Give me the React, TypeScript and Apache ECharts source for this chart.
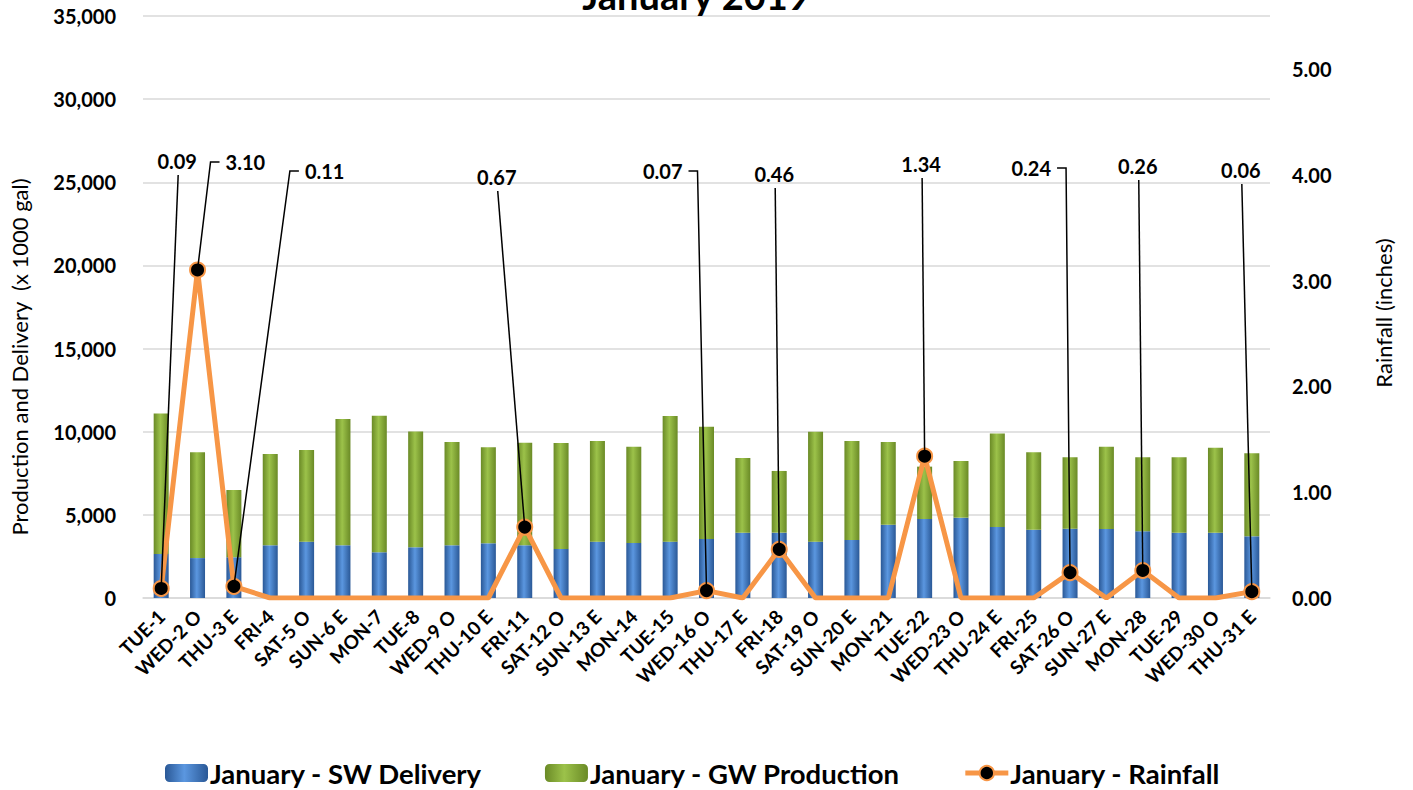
import React, { useEffect, useRef } from "react";
import * as echarts from "echarts";

const categories = [
  "TUE-1", "WED-2 O", "THU-3 E", "FRI-4", "SAT-5 O", "SUN-6 E", "MON-7", "TUE-8",
  "WED-9 O", "THU-10 E", "FRI-11", "SAT-12 O", "SUN-13 E", "MON-14", "TUE-15",
  "WED-16 O", "THU-17 E", "FRI-18", "SAT-19 O", "SUN-20 E", "MON-21", "TUE-22",
  "WED-23 O", "THU-24 E", "FRI-25", "SAT-26 O", "SUN-27 E", "MON-28", "TUE-29",
  "WED-30 O", "THU-31 E",
];

const swDelivery = [
  2650, 2400, 2450, 3170, 3390, 3170, 2750, 3050, 3170, 3290, 3170, 2950, 3390,
  3310, 3390, 3550, 3930, 3930, 3390, 3490, 4410, 4750, 4830, 4270, 4110, 4170,
  4150, 4010, 3930, 3930, 3710,
];

const gwProduction = [
  8450, 6360, 4040, 5490, 5510, 7590, 8210, 6970, 6210, 5770, 6170, 6370, 6050,
  5790, 7550, 6750, 4490, 3710, 6610, 5950, 4970, 3150, 3410, 5630, 4650, 4290,
  4950, 4450, 4530, 5110, 4990,
];

const rainfall = [
  0.09, 3.1, 0.11, 0, 0, 0, 0, 0, 0, 0, 0.67, 0, 0, 0, 0, 0.07, 0, 0.46, 0, 0, 0,
  1.34, 0, 0, 0, 0.24, 0, 0.26, 0, 0, 0.06,
];

const leftTicks = { min: 0, max: 35000, interval: 5000 };
const rightTicks = { min: 0, max: 5.5, interval: 1 };

// label leader layout: horizontal offset of leader top from point, pixel y of leader top, elbow side
const leaders: Record<number, { dx: number; top: number; elbow?: "left" | "right" }> = {
  0: { dx: 17, top: 175 },
  1: { dx: 13, top: 162, elbow: "left" },
  2: { dx: 56, top: 171, elbow: "left" },
  10: { dx: -27, top: 191 },
  15: { dx: -9, top: 171, elbow: "right" },
  17: { dx: -4, top: 188 },
  21: { dx: -2.5, top: 178 },
  25: { dx: -4, top: 168, elbow: "right" },
  27: { dx: -4, top: 180 },
  30: { dx: -10, top: 184 },
};

const FONT = "Lato, 'Open Sans', sans-serif";

export default function App() {
  const ref = useRef<HTMLDivElement>(null);

  useEffect(() => {
    document.body.style.margin = "0";
    if (!ref.current) return;
    const chart = echarts.init(ref.current, undefined, { renderer: "svg" });

    const blue = new echarts.graphic.LinearGradient(0, 0, 1, 0, [
      { offset: 0, color: "#2a5896" },
      { offset: 0.45, color: "#5b97e0" },
      { offset: 1, color: "#2a5896" },
    ]);
    const green = new echarts.graphic.LinearGradient(0, 0, 1, 0, [
      { offset: 0, color: "#6a8a26" },
      { offset: 0.45, color: "#9cc24a" },
      { offset: 1, color: "#6a8a26" },
    ]);

    const rainData = rainfall.map((v) =>
      v > 0 ? { value: v } : { value: v, symbol: "none" }
    );

    chart.setOption({
      animation: false,
      backgroundColor: "#ffffff",
      title: {
        text: "January 2019",
        left: 691,
        textAlign: "center",
        top: -29,
        textStyle: { fontFamily: FONT, fontWeight: "bold", fontSize: 38, color: "#000" },
      },
      grid: { left: 143, right: 143, top: 16, bottom: 192, containLabel: false },
      legend: {
        left: 160,
        top: 754,
        itemWidth: 43,
        itemHeight: 18,
        itemGap: 63,
        lineStyle: { width: 5 },
        textStyle: { fontFamily: FONT, fontWeight: "bold", fontSize: 27.5, lineHeight: 28, color: "#000", padding: [0, 0, 0, -3] },
        data: ["January - SW Delivery", "January - GW Production", "January - Rainfall"],
      },
      xAxis: {
        type: "category",
        data: categories,
        axisTick: { show: false },
        axisLine: { lineStyle: { color: "#d9d9d9", width: 1.5 } },
        axisLabel: {
          rotate: 45,
          interval: 0,
          margin: 15,
          fontFamily: FONT,
          fontWeight: "bold",
          fontSize: 19,
          color: "#000",
        },
      },
      yAxis: [
        {
          type: "value",
          ...leftTicks,
          axisLine: { show: false },
          axisTick: { show: false },
          splitLine: { lineStyle: { color: "#d9d9d9", width: 1.5 } },
          axisLabel: {
            margin: 27,
            fontFamily: FONT,
            fontWeight: "bold",
            fontSize: 20,
            color: "#000",
            formatter: (v: number) => v.toLocaleString("en-US"),
          },
        },
        {
          type: "value",
          ...rightTicks,
          position: "right",
          axisLine: { show: false },
          axisTick: { show: false },
          splitLine: { show: false },
          axisLabel: {
            margin: 22,
            fontFamily: FONT,
            fontWeight: "bold",
            fontSize: 20,
            color: "#000",
            formatter: (v: number) => (v > 5.01 ? "" : v.toFixed(2)),
          },
        },
      ],
      series: [
        {
          name: "January - SW Delivery",
          type: "bar",
          stack: "total",
          barWidth: 15,
          data: swDelivery,
          itemStyle: { color: blue },
        },
        {
          name: "January - GW Production",
          type: "bar",
          stack: "total",
          barWidth: 15,
          data: gwProduction,
          itemStyle: { color: green },
        },
        {
          name: "January - Rainfall",
          type: "line",
          yAxisIndex: 1,
          data: rainData,
          symbol: "circle",
          symbolSize: 15,
          z: 5,
          lineStyle: { color: "#F79646", width: 5 },
          itemStyle: { color: "#000", borderColor: "#F79646", borderWidth: 2 },
        },
      ],
    });

    const els: any[] = [];
    const textStyle = {
      fontFamily: FONT,
      fontWeight: "bold",
      fontSize: 20,
      fill: "#000",
    };
    rainfall.forEach((v, i) => {
      if (!(v > 0)) return;
      const p = chart.convertToPixel({ seriesIndex: 2 }, [i, v]) as number[];
      const L = leaders[i] || { dx: 0, top: 175 };
      const cx = p[0] + L.dx;
      const txt = v.toFixed(2);
      const lineStyle = { stroke: "#000", lineWidth: 1.5, fill: null };
      if (L.elbow === "left") {
        els.push({ type: "polyline", z: 10, shape: { points: [[p[0], p[1]], [cx, L.top], [cx + 9, L.top]] }, style: lineStyle });
        els.push({ type: "text", z: 10, x: cx + 15, y: L.top, style: { ...textStyle, text: txt, align: "left", verticalAlign: "middle" } });
      } else if (L.elbow === "right") {
        els.push({ type: "polyline", z: 10, shape: { points: [[p[0], p[1]], [cx, L.top], [cx - 9, L.top]] }, style: lineStyle });
        els.push({ type: "text", z: 10, x: cx - 15, y: L.top, style: { ...textStyle, text: txt, align: "right", verticalAlign: "middle" } });
      } else {
        els.push({ type: "polyline", z: 10, shape: { points: [[p[0], p[1]], [cx, L.top]] }, style: lineStyle });
        els.push({ type: "text", z: 10, x: cx - 1, y: L.top - 4, style: { ...textStyle, text: txt, align: "center", verticalAlign: "bottom" } });
      }
    });

    chart.setOption({
      graphic: [
        ...els,
        {
          type: "text",
          x: 19,
          y: 357,
          rotation: Math.PI / 2,
          style: {
            text: "Production and Delivery  (x 1000 gal)",
            fontFamily: FONT,
            fontSize: 22,
            fill: "#000",
            align: "center",
            verticalAlign: "middle",
          },
        },
        {
          type: "text",
          x: 1383,
          y: 313,
          rotation: Math.PI / 2,
          style: {
            text: "Rainfall (inches)",
            fontFamily: FONT,
            fontSize: 22,
            fill: "#000",
            align: "center",
            verticalAlign: "middle",
          },
        },
      ],
    });

    return () => chart.dispose();
  }, []);

  return <div ref={ref} style={{ width: 1413, height: 790 }} />;
}
